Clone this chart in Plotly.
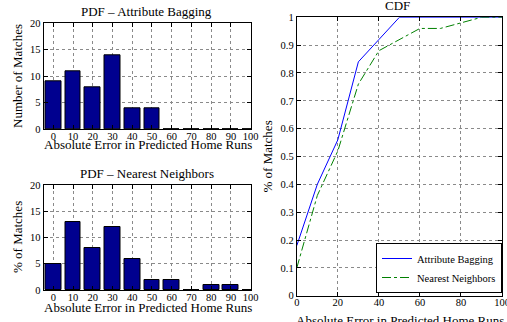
import plotly.graph_objects as go

# ---- data ----
error_bins = [0, 10, 20, 30, 40, 50, 60, 70, 80, 90, 100]
pdf_attribute_bagging = [9, 11, 8, 14, 4, 4, 0, 0, 0, 0, 0]
pdf_nearest_neighbors = [5, 13, 8, 12, 6, 2, 2, 0, 1, 1, 0]
cdf_attribute_bagging = [0.18, 0.40, 0.56, 0.84, 0.92, 1.0, 1.0, 1.0, 1.0, 1.0, 1.0]
cdf_nearest_neighbors = [0.10, 0.36, 0.52, 0.76, 0.88, 0.92, 0.96, 0.96, 0.98, 1.0, 1.0]
pdf_y_ticks = [0, 5, 10, 15, 20]
pdf_x_ticks = [0, 10, 20, 30, 40, 50, 60, 70, 80, 90, 100]
cdf_x_ticks = [0, 20, 40, 60, 80, 100]
cdf_y_ticks = [0, 0.1, 0.2, 0.3, 0.4, 0.5, 0.6, 0.7, 0.8, 0.9, 1]
cdf_y_labels = ["0", "0.1", "0.2", "0.3", "0.4", "0.5", "0.6", "0.7", "0.8", "0.9", "1"]

W, H = 507, 322
FONT = "Liberation Serif"
BAR = "#00008f"

def px(x):
    return x / W

def py(y):
    return 1 - y / H

fig = go.Figure()

fig.add_trace(go.Bar(x=error_bins, y=pdf_attribute_bagging, width=8,
                     marker=dict(color=BAR, line=dict(color="black", width=1)),
                     xaxis="x", yaxis="y", showlegend=False))
fig.add_trace(go.Bar(x=error_bins, y=pdf_nearest_neighbors, width=8,
                     marker=dict(color=BAR, line=dict(color="black", width=1)),
                     xaxis="x2", yaxis="y2", showlegend=False))
fig.add_trace(go.Scatter(x=error_bins, y=cdf_attribute_bagging, mode="lines",
                         name="Attribute Bagging",
                         line=dict(color="#0000ff", width=1),
                         xaxis="x3", yaxis="y3"))
fig.add_trace(go.Scatter(x=error_bins, y=cdf_nearest_neighbors, mode="lines",
                         name="Nearest Neighbors",
                         line=dict(color="#008000", width=1, dash="dashdot"),
                         xaxis="x3", yaxis="y3"))

tickfont = dict(family=FONT, size=10.5, color="black")
common = dict(showline=True, linecolor="black", linewidth=1, mirror="ticks",
              ticks="inside", ticklen=4, tickcolor="black", automargin=False,
              showgrid=True, gridcolor="#8a8a8a", griddash="dot", gridwidth=1,
              zeroline=False, tickfont=tickfont, ticklabeloverflow="allow")
xcommon = dict(common, ticklabelstandoff=-3)

left_dom = [px(43.5), px(251)]
cdf_dom = [px(296.8), px(502)]

fig.update_layout(
    template="none",
    width=W, height=H,
    margin=dict(l=0, r=0, t=0, b=0, pad=0, autoexpand=False),
    paper_bgcolor="white", plot_bgcolor="white",
    font=dict(family=FONT, color="black"),
    bargap=0,
    xaxis=dict(domain=left_dom, anchor="y", range=[-5, 100.2],
               tickvals=pdf_x_ticks, **xcommon),
    yaxis=dict(domain=[py(129.3), py(23.3)], anchor="x", range=[0, 20],
               tickvals=pdf_y_ticks, **common),
    xaxis2=dict(domain=left_dom, anchor="y2", range=[-5, 100.2],
                tickvals=pdf_x_ticks, **xcommon),
    yaxis2=dict(domain=[py(290), py(185)], anchor="x2", range=[0, 20],
                tickvals=pdf_y_ticks, **common),
    xaxis3=dict(domain=cdf_dom, anchor="y3", range=[0, 100],
                tickvals=cdf_x_ticks, **xcommon),
    yaxis3=dict(domain=[py(295.7), py(17.3)], anchor="x3", range=[0, 1],
                tickvals=cdf_y_ticks, ticktext=cdf_y_labels, **common),
    legend=dict(x=px(502), y=py(293), xanchor="right", yanchor="bottom",
                bgcolor="white", bordercolor="black", borderwidth=1,
                font=dict(family=FONT, size=10.5, color="black"),
                tracegroupgap=0),
)

def ann(text, x, y, size=13, angle=0):
    fig.add_annotation(text=text, x=px(x), y=py(y), xref="paper", yref="paper",
                       showarrow=False, textangle=angle,
                       xanchor="center", yanchor="middle",
                       font=dict(family=FONT, size=size, color="black"))

xlabel = "Absolute Error in Predicted Home Runs"
ann("PDF \u2013 Attribute Bagging", 146.5, 11)
ann("PDF \u2013 Nearest Neighbors", 146.5, 173.5)
ann("CDF", 397, 5.5)
ann(xlabel, 147.5, 144)
ann(xlabel, 147.5, 307)
ann(xlabel, 400, 320)
ann("Number of Matches", 17, 76, angle=-90)
ann("% of Matches", 17, 237, angle=-90)
ann("% of Matches", 267, 156.5, angle=-90)

fig.write_html("out.html",
               config={"displayModeBar": False},
               post_script="document.body.style.margin='0';document.body.style.overflow='hidden';")
